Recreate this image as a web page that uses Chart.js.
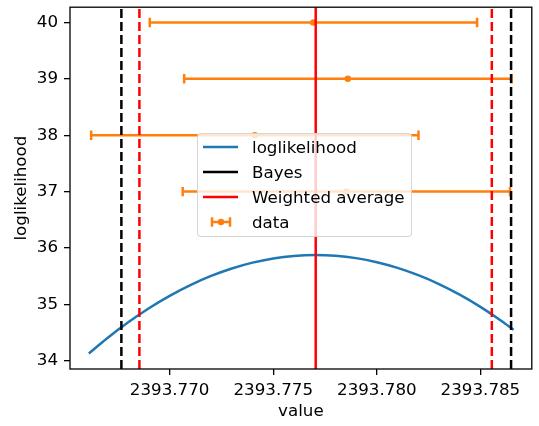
<!DOCTYPE html>
<html>
<head>
<meta charset="utf-8">
<script src="https://cdn.jsdelivr.net/npm/chart.js@4"></script>
<style>
  body { margin: 0; background: #fff; }
  #wrap { position: relative; width: 539px; height: 426px; }
  #legend { position: absolute; left: 197px; top: 133px; width: 213px; height: 102px;
    background: rgba(255,255,255,0.8); border: 1px solid rgba(204,204,204,0.8); border-radius: 4px;
    font-family: 'DejaVu Sans'; font-size: 16.7px; color: #000; }
  .row { position: absolute; left: 0; height: 20px; width: 100%; }
  .row svg { position: absolute; left: 5px; top: 0; }
  .row span { position: absolute; left: 54px; top: 0; line-height: 20px; white-space: nowrap; }
</style>
</head>
<body>
<div id="wrap">
  <canvas id="chart" width="539" height="426"></canvas>
  <div id="legend">
    <div class="row" style="top:3px"><svg width="36" height="20"><line x1="0" y1="10" x2="35" y2="10" stroke="#1f77b4" stroke-width="2.5"/></svg><span>loglikelihood</span></div>
    <div class="row" style="top:28px"><svg width="36" height="20"><line x1="0" y1="10" x2="35" y2="10" stroke="#000" stroke-width="2.5"/></svg><span>Bayes</span></div>
    <div class="row" style="top:52.5px"><svg width="36" height="20"><line x1="0" y1="10" x2="35" y2="10" stroke="#ff0000" stroke-width="2.5"/></svg><span>Weighted average</span></div>
    <div class="row" style="top:77.5px"><svg width="36" height="20"><line x1="9" y1="10" x2="27" y2="10" stroke="#ff7f0e" stroke-width="2.5"/><line x1="9" y1="5.3" x2="9" y2="14.7" stroke="#ff7f0e" stroke-width="2.5"/><line x1="27" y1="5.3" x2="27" y2="14.7" stroke="#ff7f0e" stroke-width="2.5"/><circle cx="18" cy="10" r="3.3" fill="#ff7f0e"/></svg><span>data</span></div>
  </div>
</div>
<script>
// loglikelihood curve
var curveX = [2393.7661, 2393.767, 2393.768, 2393.769, 2393.770, 2393.771, 2393.772, 2393.773,
              2393.774, 2393.775, 2393.776, 2393.777, 2393.778, 2393.779, 2393.780, 2393.781,
              2393.782, 2393.783, 2393.784, 2393.785, 2393.786, 2393.7866];
var curveY = [34.13, 34.405, 34.683, 34.932, 35.152, 35.342, 35.504, 35.636,
              35.740, 35.814, 35.859, 35.875, 35.862, 35.820, 35.748, 35.648,
              35.518, 35.360, 35.172, 34.955, 34.710, 34.548];

// data points with horizontal error bars
var dataX = [2393.77694, 2393.77860, 2393.77411, 2393.77853];
var dataY = [40, 39, 38, 37];
var dataErr = [0.0079, 0.0079, 0.0079, 0.0079];

// vertical lines
var bayesX = [2393.76767, 2393.78648];
var weightedX = 2393.77705;
var weightedBandX = [2393.76854, 2393.78555];

var xTicks = [2393.770, 2393.775, 2393.780, 2393.785];
var yTicks = [34, 35, 36, 37, 38, 39, 40];
var xMin = 2393.76519, xMax = 2393.78748;
var yMin = 33.854, yMax = 40.27;

var orange = '#ff7f0e';
var font = { family: 'DejaVu Sans', size: 16.7 };

function vline(x, color, dash) {
	return {
		data: [{ x: x, y: yMin }, { x: x, y: yMax }],
		borderColor: color,
		borderWidth: 2.5,
		borderDash: dash,
		pointRadius: 0,
		showLine: true,
		order: 0
	};
}

var datasets = [];
datasets.push(vline(weightedX, '#ff0000', []));
weightedBandX.forEach(function(x) { datasets.push(vline(x, '#ff0000', [9, 4])); });
bayesX.forEach(function(x) { datasets.push(vline(x, '#000000', [9, 4])); });

// error bars: one little line per point, caps drawn as rotated 'line' points
for (var i = 0; i < dataX.length; i++) {
	datasets.push({
		data: [{ x: dataX[i] - dataErr[i], y: dataY[i] }, { x: dataX[i] + dataErr[i], y: dataY[i] }],
		borderColor: orange,
		borderWidth: 2.5,
		showLine: true,
		pointStyle: 'line',
		pointRotation: 90,
		pointRadius: 4.7,
		pointBorderWidth: 2.5,
		pointBorderColor: orange,
		order: 1
	});
}
datasets.push({
	data: dataX.map(function(x, i) { return { x: x, y: dataY[i] }; }),
	backgroundColor: orange,
	borderColor: orange,
	pointRadius: 3.3,
	pointBorderWidth: 0,
	showLine: false,
	order: 1
});

datasets.push({
	data: curveX.map(function(x, i) { return { x: x, y: curveY[i] }; }),
	borderColor: '#1f77b4',
	borderWidth: 2.5,
	pointRadius: 0,
	showLine: true,
	cubicInterpolationMode: 'monotone',
	order: 2
});

var frame = {
	id: 'frame',
	afterDatasetsDraw: function(chart) {
		var a = chart.chartArea, ctx = chart.ctx;
		ctx.save();
		ctx.strokeStyle = '#000';
		ctx.lineWidth = 1.3;
		ctx.strokeRect(a.left, a.top, a.right - a.left, a.bottom - a.top);
		ctx.restore();
	}
};

new Chart(document.getElementById('chart'), {
	type: 'scatter',
	data: { datasets: datasets },
	plugins: [frame],
	options: {
		responsive: false,
		animation: false,
		devicePixelRatio: 1,
		layout: { padding: { top: 3, right: 1, left: 0, bottom: 0 } },
		plugins: { legend: { display: false }, tooltip: { enabled: false } },
		scales: {
			x: {
				type: 'linear', min: xMin, max: xMax,
				afterFit: function(s) { s.height = 57; s.paddingLeft = 0; s.paddingRight = 0; },
				afterBuildTicks: function(s) { s.ticks = xTicks.map(function(v) { return { value: v }; }); },
				border: { display: false },
				grid: { drawOnChartArea: false, drawTicks: true, tickLength: 6, color: '#000', lineWidth: 1.3 },
				ticks: { font: font, color: '#000', padding: 6, maxRotation: 0, autoSkip: false,
					callback: function(v) { return v.toFixed(3); } },
				title: { display: true, text: 'value', font: font, color: '#000', padding: { top: 0, bottom: 4 } }
			},
			y: {
				type: 'linear', min: yMin, max: yMax,
				afterFit: function(s) { s.width = 70; s.paddingTop = 0; s.paddingBottom = 0; },
				afterBuildTicks: function(s) { s.ticks = yTicks.map(function(v) { return { value: v }; }); },
				border: { display: false },
				grid: { drawOnChartArea: false, drawTicks: true, tickLength: 6, color: '#000', lineWidth: 1.3 },
				ticks: { font: font, color: '#000', padding: 6, autoSkip: false,
					callback: function(v) { return String(v); } },
				title: { display: true, text: 'loglikelihood', font: font, color: '#000', padding: { top: 12, bottom: 0 } }
			}
		}
	}
});
</script>
</body>
</html>
